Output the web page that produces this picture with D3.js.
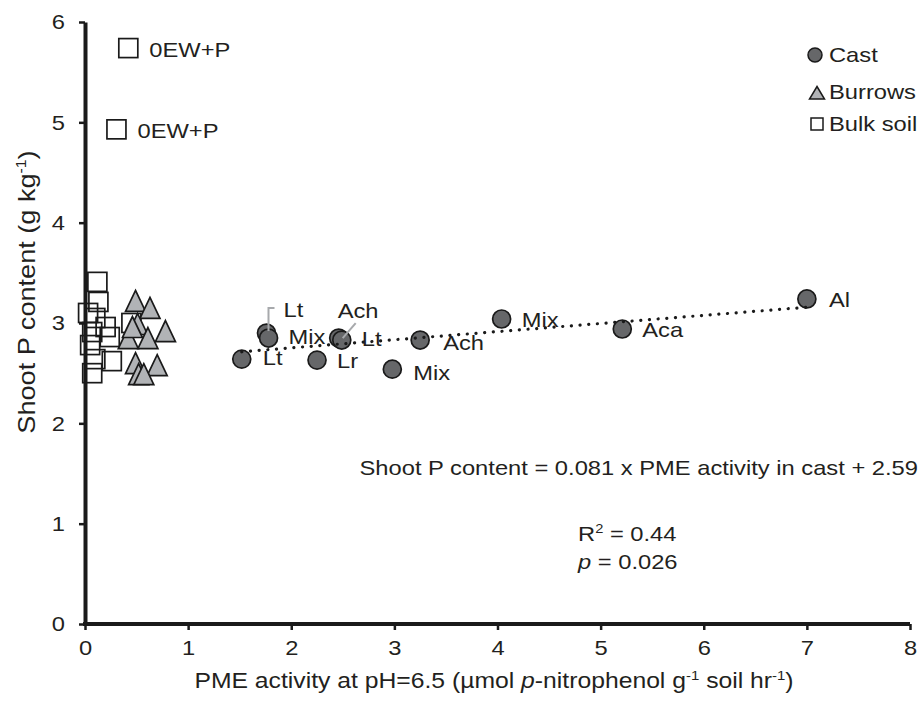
<html>
<head>
    <meta charset="utf-8">
    <title>Shoot P vs PME activity</title>
    <script src="https://cdn.jsdelivr.net/npm/d3@7"></script>
    <style>
        body { margin: 0; background: #fff; }
        text { font-family: "Liberation Sans", Arial, sans-serif; fill: #231f20; }
    </style>
</head>
<body>
<svg id="chart"></svg>
<script>
    // cast: PME activity vs shoot P, with label
    const castX = [1.52, 1.76, 1.78, 2.25, 2.46, 2.49, 2.98, 3.25, 4.04, 5.21, 7.00];
    const castY = [2.64, 2.90, 2.85, 2.63, 2.85, 2.83, 2.54, 2.83, 3.04, 2.94, 3.24];
    const castLabels = ['Lt', 'Lt', 'Mix', 'Lr', 'Ach', 'Lt', 'Mix', 'Ach', 'Mix', 'Aca', 'Al'];

    const burrowX = [0.49, 0.63, 0.51, 0.78, 0.61, 0.42, 0.46, 0.49, 0.70, 0.52, 0.57];
    const burrowY = [3.22, 3.15, 2.99, 2.92, 2.85, 2.85, 2.96, 2.60, 2.58, 2.49, 2.49];

    const bulkX = [0.12, 0.13, 0.03, 0.20, 0.24, 0.07, 0.26, 0.07, 0.10, 0.45, 0.10, 0.05, 0.305, 0.42];
    const bulkY = [3.41, 3.21, 3.10, 2.96, 2.86, 2.91, 2.62, 2.50, 2.64, 3.00, 3.05, 2.78, 4.93, 5.74];
    const bulkLabels = ['', '', '', '', '', '', '', '', '', '', '', '', '0EW+P', '0EW+P'];

    const slope = 0.081, intercept = 2.59;
    const xTicks = [0, 1, 2, 3, 4, 5, 6, 7, 8];
    const yTicks = [0, 1, 2, 3, 4, 5, 6];
    const legendNames = ['Cast', 'Burrows', 'Bulk soil'];

    // label placement: [dx, dy] from the point
    const castLabelPos = [
        [21, 6], [17, -16], [20, 6], [20, 8], [-1, -20], [20, 6],
        [21, 11], [23, 10], [20, 8], [20, 8], [22, 8]
    ];
    // leader lines, offsets from the point
    const castLeaders = {
        1: [[2, -2], [2, -25], [8, -25]],
        4: [[4, 0], [17, -15]]
    };

    const SX = 1.13;   // the reference type is set a little wide
    const width = 922, height = 703;
    const svg = d3.select('#chart').attr('width', width).attr('height', height);

    const x = d3.scaleLinear().domain([0, 8]).range([85, 910]);
    const y = d3.scaleLinear().domain([0, 6]).range([624, 22]);

    function wideText(parent, px, py, size, sx) {
        return parent.append('text')
            .attr('transform', 'translate(' + px + ',' + py + ') scale(' + (sx || SX) + ',1)')
            .attr('font-size', size);
    }

    // axes
    const gx = svg.append('g').attr('transform', 'translate(0,' + y(0) + ')')
        .call(d3.axisBottom(x).tickValues(xTicks).tickFormat(d3.format('d'))
            .tickSize(6).tickSizeOuter(0).tickPadding(10));
    const gy = svg.append('g').attr('transform', 'translate(' + x(0) + ',0)')
        .call(d3.axisLeft(y).tickValues(yTicks).tickFormat(d3.format('d'))
            .tickSize(6).tickSizeOuter(0).tickPadding(14));
    [gx, gy].forEach(g => {
        g.select('.domain').attr('stroke', '#1a1a1a').attr('stroke-width', 4);
        g.selectAll('.tick line').attr('stroke', '#1a1a1a').attr('stroke-width', 2.5);
        g.selectAll('.tick text').attr('font-size', 21).attr('fill', '#231f20')
            .attr('font-family', '"Liberation Sans", Arial, sans-serif');
    });
    gx.select('.domain').attr('d', 'M83,0H910');
    gy.selectAll('.tick text').each(function () {
        const t = d3.select(this);
        t.attr('x', +t.attr('x') / SX).attr('transform', 'scale(' + SX + ',1)');
    });
    gx.selectAll('.tick text').attr('transform', 'scale(' + SX + ',1)');

    // axis titles
    const xt = wideText(svg, 494, 688, 21.5, 1.15).attr('text-anchor', 'middle');
    xt.append('tspan').text('PME activity at pH=6.5 (µmol ');
    xt.append('tspan').attr('font-style', 'italic').text('p');
    xt.append('tspan').text('-nitrophenol g');
    xt.append('tspan').attr('font-size', 13).attr('dy', -8).text('-1');
    xt.append('tspan').attr('dy', 8).text(' soil hr');
    xt.append('tspan').attr('font-size', 13).attr('dy', -8).text('-1');
    xt.append('tspan').attr('dy', 8).text(')');

    const yt = svg.append('text').attr('transform', 'translate(35,292) rotate(-90) scale(' + SX + ',1)')
        .attr('text-anchor', 'middle').attr('font-size', 24);
    yt.append('tspan').text('Shoot P content (g kg');
    yt.append('tspan').attr('font-size', 14).attr('dy', -9).text('-1');
    yt.append('tspan').attr('dy', 9).text(')');

    // bulk soil squares
    const sq = 19;
    svg.append('g').selectAll('rect').data(bulkX).join('rect')
        .attr('x', d => x(d) - sq / 2)
        .attr('y', (d, i) => y(bulkY[i]) - sq / 2)
        .attr('width', sq).attr('height', sq)
        .attr('fill', 'none').attr('stroke', '#1a1a1a').attr('stroke-width', 1.7);
    bulkLabels.forEach((d, i) => {
        if (d) wideText(svg, x(bulkX[i]) + 21, y(bulkY[i]) + 8.5, 21).text(d);
    });

    // burrows triangles (flat base, width 20, height 21)
    const triType = {
        draw(ctx, size) {
            const w = 10, h = 10.5;
            ctx.moveTo(0, -h); ctx.lineTo(w, h); ctx.lineTo(-w, h); ctx.closePath();
        }
    };
    svg.append('g').selectAll('path').data(burrowX).join('path')
        .attr('d', d3.symbol().type(triType))
        .attr('transform', (d, i) => 'translate(' + x(d) + ',' + y(burrowY[i]) + ')')
        .attr('fill', '#b1b3b6').attr('stroke', '#1a1a1a').attr('stroke-width', 1.7)
        .attr('stroke-linejoin', 'miter');

    // cast circles
    svg.append('g').selectAll('circle').data(castX).join('circle')
        .attr('cx', d => x(d)).attr('cy', (d, i) => y(castY[i])).attr('r', 9)
        .attr('fill', '#666769').attr('stroke', '#1a1a1a').attr('stroke-width', 1.7);

    // regression line, drawn over the circles
    const ext = d3.extent(castX);
    svg.append('path')
        .attr('d', d3.line().x(d => x(d)).y(d => y(slope * d + intercept))(ext))
        .attr('fill', 'none').attr('stroke', '#1a1a1a').attr('stroke-width', 3.2)
        .attr('stroke-dasharray', '0.1 8.6').attr('stroke-linecap', 'round');

    // leader lines
    Object.keys(castLeaders).forEach(k => {
        const px = x(castX[k]), py = y(castY[k]);
        svg.append('path')
            .attr('d', d3.line()(castLeaders[k].map(p => [px + p[0], py + p[1]])))
            .attr('fill', 'none').attr('stroke', '#a7a9ac').attr('stroke-width', 2);
    });

    castLabels.forEach((d, i) => {
        wideText(svg, x(castX[i]) + castLabelPos[i][0], y(castY[i]) + castLabelPos[i][1], 21).text(d);
    });

    // equation
    wideText(svg, 918, 475, 21).attr('text-anchor', 'end')
        .text('Shoot P content = ' + slope + ' x PME activity in cast + ' + intercept);
    const r2 = wideText(svg, 578, 541, 21);
    r2.append('tspan').text('R');
    r2.append('tspan').attr('font-size', 13).attr('dy', -8).text('2');
    r2.append('tspan').attr('dy', 8).text(' = 0.44');
    const pv = wideText(svg, 578, 569, 21);
    pv.append('tspan').attr('font-style', 'italic').text('p');
    pv.append('tspan').text(' = 0.026');

    // legend
    const legY = [55, 93, 124];
    svg.append('circle').attr('cx', 815).attr('cy', legY[0]).attr('r', 7)
        .attr('fill', '#666769').attr('stroke', '#1a1a1a').attr('stroke-width', 1.5);
    svg.append('path').attr('d', 'M0,-6.5L7.5,6L-7.5,6Z')
        .attr('transform', 'translate(817,' + legY[1] + ')')
        .attr('fill', '#b1b3b6').attr('stroke', '#1a1a1a').attr('stroke-width', 1.5);
    svg.append('rect').attr('x', 811).attr('y', legY[2] - 6).attr('width', 12).attr('height', 12)
        .attr('fill', 'none').attr('stroke', '#1a1a1a').attr('stroke-width', 1.5);
    const legBase = [62, 99, 131];
    legendNames.forEach((d, i) => wideText(svg, 829, legBase[i], 21).text(d));
</script>
</body>
</html>
